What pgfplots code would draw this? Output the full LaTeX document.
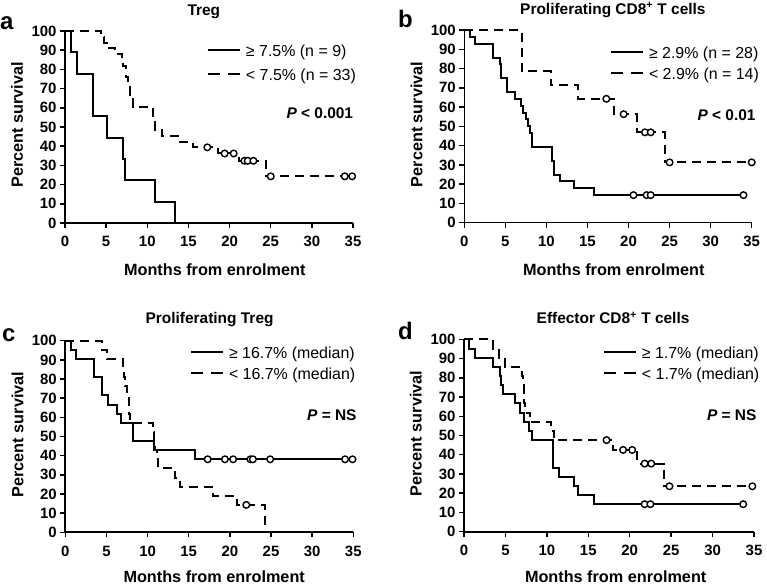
\documentclass[border=0pt]{standalone}
\usepackage{fontspec}
\setmainfont{Liberation Sans}
\usepackage{pgfplots}
\pgfplotsset{compat=1.18}

\pgfplotsset{
 every axis title/.style={anchor=base, font=\bfseries\fontsize{15.5}{18}\selectfont},
 every axis x label/.style={at={(axis description cs:0.52,-0.272)}, anchor=base},
 every axis y label/.style={at={(axis description cs:-0.146,0.51)}, rotate=90, anchor=base},
 km/.style={
  scale only axis,
  xmin=0, xmax=35, ymin=0, ymax=100,
  axis lines=left, axis line style={-, line width=1.6bp},
  xtick={0,5,...,35}, ytick={0,10,...,100},
  tick align=outside, major tick length=5bp,
  every tick/.style={black, line width=1.5bp},
  ticklabel style={font=\bfseries\fontsize{15}{18}\selectfont},
  xticklabel style={yshift=-5bp},
  /pgf/number format/assume math mode=true,
  clip=false,
  xlabel={Months from enrolment}, ylabel={Percent survival},
  label style={font=\bfseries\fontsize{16.3}{19}\selectfont},
  legend image code/.code={\draw[##1] (0bp,0bp) -- (32bp,0bp);},
  legend cell align=left,
  legend style={draw=none, fill=none, inner sep=0pt, outer sep=0pt, anchor=north west,
    column sep=5bp, font=\fontsize{16}{19}\selectfont,
    nodes={inner sep=0pt, text height=15bp, text depth=2bp}},
 },
 sv/.style={black, line width=2bp, const plot},
 ds/.style={sv, dash pattern=on 9bp off 6bp, legend image post style={dash pattern=on 12bp off 8bp}},
 cens/.style={only marks, mark=*, mark size=3.3bp, mark options={fill=white, draw=black, line width=1.4bp, solid}, forget plot},
}
\newcommand\pfont{\bfseries\fontsize{15.5}{18}\selectfont}

\begin{document}
\begin{tikzpicture}
\useasboundingbox (0,0) rectangle (767bp,586bp);
\node[anchor=base west, inner sep=0pt, font=\bfseries\fontsize{24}{28}\selectfont] at (0bp,556bp) {a};
\node[anchor=base west, inner sep=0pt, font=\bfseries\fontsize{24}{28}\selectfont] at (398bp,558bp) {b};
\node[anchor=base west, inner sep=0pt, font=\bfseries\fontsize{24}{28}\selectfont] at (2bp,244bp) {c};
\node[anchor=base west, inner sep=0pt, font=\bfseries\fontsize{24}{28}\selectfont] at (398bp,246bp) {d};

% ---------------- a
\begin{axis}[km, at={(65bp,363bp)}, anchor=south west, width=288bp, height=192bp,
  title={Treg}, title style={at={(axis description cs:0.482,1.083)}},
  legend style={at={(axis description cs:0.493,0.945)}, row sep=7.3bp}]
\addplot[sv] coordinates {(0,100) (0.7,88.9) (1.4,77.8) (3.45,55.6) (5.15,44.4) (7.05,33.3) (7.3,22.2) (10.9,11.1) (13.4,0)};
\addlegendentry{≥ 7.5\% (n = 9)}
\addplot[ds] coordinates {(0,100) (4.4,97) (4.8,93.9) (5.1,90.9) (6.1,87.9) (6.9,84.8) (7.1,81.8) (7.4,75.8) (7.6,72.7) (7.9,66.7) (8.3,60.6) (10.7,54.5) (10.9,48.5) (11.8,45.5) (13.9,42.4) (15.6,39.4) (18.6,36.2) (21.2,32.4) (24.4,24.3) (34.9,24.3)};
\addlegendentry{< 7.5\% (n = 33)}
\addplot[cens] coordinates {(17.3,39.4) (19.4,36.2) (20.5,36.2) (21.8,32.4) (22.2,32.4) (22.9,32.4) (25.0,24.3) (34.0,24.3) (34.9,24.3)};
\node[anchor=east, inner sep=0pt, font=\pfont] at (axis description cs:1.001,0.573) {\textit{P} < 0.001};
\end{axis}

% ---------------- b
\begin{axis}[km, at={(464.3bp,363.3bp)}, anchor=south west, width=287.4bp, height=192.7bp,
  title={Proliferating CD8\textsuperscript{+} T cells}, title style={at={(axis description cs:0.517,1.083)}},
  legend style={at={(axis description cs:0.507,0.931)}, row sep=4.7bp}]
\addplot[sv] coordinates {(0,100) (0.7,96.4) (1.3,92.9) (3.5,85.7) (4.3,82.1) (4.5,75) (5.2,67.9) (6.2,64.3) (6.9,60.7) (7.2,57.1) (7.5,53.6) (7.8,50) (8.0,46.4) (8.3,39.3) (10.7,32.1) (10.9,25) (11.6,21.4) (13.3,17.9) (15.8,14.3) (34.0,14.3)};
\addlegendentry{≥ 2.9\% (n = 28)}
\addplot[ds] coordinates {(0,100) (7.0,78.6) (10.5,71.4) (13.9,64.3) (18.2,56.3) (21.0,46.9) (24.4,31.3) (35,31.3)};
\addlegendentry{< 2.9\% (n = 14)}
\addplot[cens] coordinates {(20.6,14.3) (22.2,14.3) (22.7,14.3) (34.0,14.3)};
\addplot[cens] coordinates {(17.3,64.3) (19.4,56.3) (22.0,46.9) (22.7,46.9) (25.0,31.3) (35.0,31.3)};
\node[anchor=east, inner sep=0pt, font=\pfont] at (axis description cs:1.014,0.559) {\textit{P} < 0.01};
\end{axis}

% ---------------- c
\begin{axis}[km, at={(65.3bp,53.7bp)}, anchor=south west, width=288bp, height=191.6bp,
  title={Proliferating Treg}, title style={at={(axis description cs:0.501,1.09)}},
  x label style={at={(axis description cs:0.517,-0.262)}},
  legend style={at={(axis description cs:0.433,0.987)}, row sep=4.7bp}]
\addplot[sv] coordinates {(0,100) (0.7,95.2) (1.3,90.5) (3.5,81) (4.4,71.4) (5.2,66.7) (6.3,61.9) (6.8,57.1) (8.2,47.6) (10.8,42.9) (15.8,38.1) (34.9,38.1)};
\addlegendentry{≥ 16.7\% (median)}
\addplot[ds] coordinates {(0,100) (4.4,95.2) (5.1,90.5) (7.05,85.7) (7.15,81) (7.25,76.2) (7.5,71.4) (7.7,66.7) (7.8,61.9) (7.9,57.1) (10.6,52.4) (10.8,47.6) (10.9,42.9) (11.1,38.1) (11.3,33.3) (13.3,28.6) (13.9,23.8) (18.0,19.0) (20.9,14.3) (24.3,0)};
\addlegendentry{< 16.7\% (median)}
\addplot[cens] coordinates {(17.3,38.1) (19.4,38.1) (20.4,38.1) (22.5,38.1) (22.8,38.1) (24.9,38.1) (34.0,38.1) (34.9,38.1)};
\addplot[cens] coordinates {(22.0,14.3)};
\node[anchor=east, inner sep=0pt, font=\pfont] at (axis description cs:1.012,0.612) {\textit{P} = NS};
\end{axis}

% ---------------- d
\begin{axis}[km, at={(464bp,54.3bp)}, anchor=south west, width=290bp, height=192.4bp,
  title={Effector CD8\textsuperscript{+} T cells}, title style={at={(axis description cs:0.514,1.08)}},
  x label style={at={(axis description cs:0.523,-0.262)}},
  legend style={at={(axis description cs:0.479,0.980)}, row sep=4.7bp}]
\addplot[sv] coordinates {(0,100) (0.65,95.2) (1.3,90.5) (3.45,85.7) (4.3,81) (4.5,76.2) (4.7,71.4) (6.1,66.7) (6.7,61.9) (7.3,57.1) (7.9,52.4) (8.25,47.6) (10.7,42.9) (10.8,33.3) (11.5,28.6) (13.3,23.8) (13.8,19) (15.7,14.3) (33.7,14.3)};
\addlegendentry{≥ 1.7\% (median)}
\addplot[ds] coordinates {(0,100) (3.5,95.2) (4.2,90.5) (5.0,85.7) (7.0,81) (7.1,76.2) (7.2,71.4) (7.3,66.7) (7.4,61.9) (8.0,57.1) (10.5,52.4) (10.9,47.6) (18.0,42.5) (20.9,35.4) (24.1,23.6) (34.8,23.6)};
\addlegendentry{< 1.7\% (median)}
\addplot[cens] coordinates {(21.8,14.3) (22.5,14.3) (33.7,14.3)};
\addplot[cens] coordinates {(17.2,47.6) (19.2,42.5) (20.3,42.5) (21.8,35.4) (22.6,35.4) (24.8,23.6) (34.8,23.6)};
\node[anchor=east, inner sep=0pt, font=\pfont] at (axis description cs:1.009,0.607) {\textit{P} = NS};
\end{axis}
\end{tikzpicture}
\end{document}
